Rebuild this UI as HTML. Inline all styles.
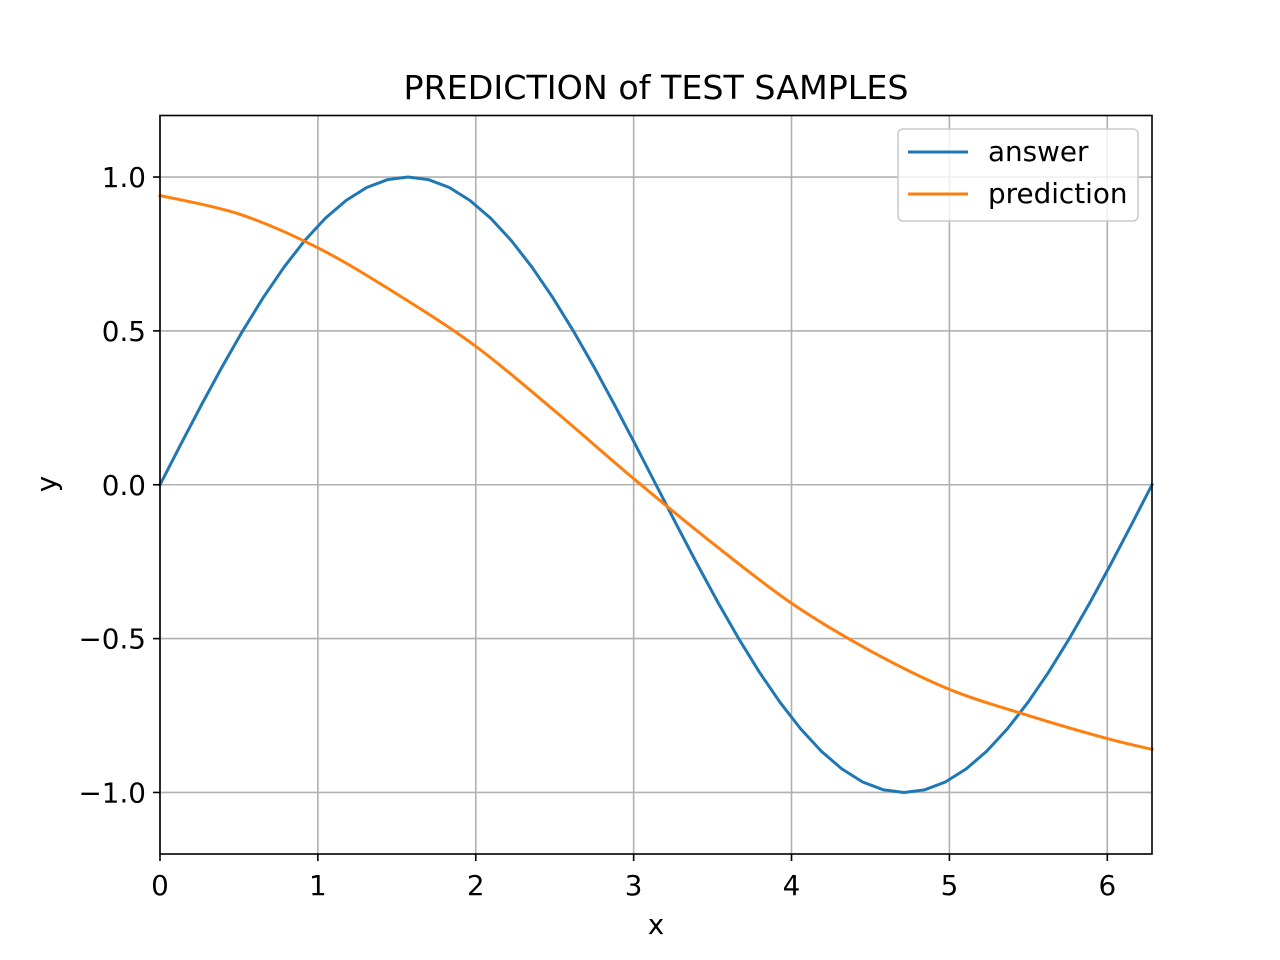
<!DOCTYPE html>
<html><head><meta charset="utf-8">
<style>
html,body{margin:0;padding:0;background:#fff;}
svg{display:block;font-family:"DejaVu Sans","Liberation Sans",sans-serif;}
</style></head>
<body>
<svg id="chart" width="1280" height="960" viewBox="0 0 1280 960" xmlns="http://www.w3.org/2000/svg">
<rect x="0" y="0" width="1280" height="960" fill="#fff"/>
<g id="grid"></g>
<g id="series"></g>
<rect x="160" y="115.5" width="992" height="738.5" fill="none" stroke="#000" stroke-width="1.6"/>
<g id="ticks"></g>
<text x="656" y="99" font-size="33.3" text-anchor="middle">PREDICTION of TEST SAMPLES</text>
<text x="656" y="934" font-size="27.8" text-anchor="middle">x</text>
<text x="0" y="0" font-size="27.8" text-anchor="middle" transform="translate(56,484) rotate(-90)">y</text>
<g>
<rect x="898" y="129" width="240" height="92" rx="5" fill="#fff" fill-opacity="0.8" stroke="#ccc" stroke-width="1.6"/>
<line x1="908" y1="152" x2="968" y2="152" stroke="#1f77b4" stroke-width="3"/>
<text x="988" y="161" font-size="27.8">answer</text>
<line x1="908" y1="194" x2="968" y2="194" stroke="#ff7f0e" stroke-width="3"/>
<text x="988" y="203" font-size="27.8">prediction</text>
</g>
</svg>
<script>
const answerX=[0,0.1309,0.2618,0.3927,0.5236,0.6545,0.7854,0.9163,1.0472,1.1781,1.309,1.4399,1.5708,1.7017,1.8326,1.9635,2.0944,2.2253,2.3562,2.4871,2.618,2.7489,2.8798,3.0107,3.1416,3.2725,3.4034,3.5343,3.6652,3.7961,3.927,4.0579,4.1888,4.3197,4.4506,4.5815,4.7124,4.8433,4.9742,5.1051,5.236,5.3669,5.4978,5.6287,5.7596,5.8905,6.0214,6.1523,6.2832];
const answerY=[0,0.1305,0.2588,0.3827,0.5,0.6088,0.7071,0.7934,0.866,0.9239,0.9659,0.9914,1,0.9914,0.9659,0.9239,0.866,0.7934,0.7071,0.6088,0.5,0.3827,0.2588,0.1305,0,-0.1305,-0.2588,-0.3827,-0.5,-0.6088,-0.7071,-0.7934,-0.866,-0.9239,-0.9659,-0.9914,-1,-0.9914,-0.9659,-0.9239,-0.866,-0.7934,-0.7071,-0.6088,-0.5,-0.3827,-0.2588,-0.1305,0];
const predX=[0,0.5,1,1.5,2,2.5,3,3.5,4,4.5,5,5.5,6,6.2832];
const predY=[0.94,0.88,0.77,0.62,0.45,0.24,0.02,-0.19,-0.385,-0.54,-0.665,-0.75,-0.825,-0.86];
const xTicks=[0,1,2,3,4,5,6];
const yTicks=[-1.0,-0.5,0.0,0.5,1.0];
const yTickLabels=["\u22121.0","\u22120.5","0.0","0.5","1.0"];

const X0=160,X1=1152,Y0=854,Y1=115.5,xmin=0,xmax=6.2832,ymin=-1.2,ymax=1.2;
const sx=v=>X0+(v-xmin)/(xmax-xmin)*(X1-X0);
const sy=v=>Y0-(v-ymin)/(ymax-ymin)*(Y0-Y1);
const NS="http://www.w3.org/2000/svg";
function mk(tag,attrs,parent){const e=document.createElementNS(NS,tag);for(const k in attrs)e.setAttribute(k,attrs[k]);parent.appendChild(e);return e;}
const grid=document.getElementById('grid'),ticks=document.getElementById('ticks'),series=document.getElementById('series');
xTicks.forEach(t=>{
 const gl=mk('line',{x1:sx(t),x2:sx(t),y1:Y1,y2:Y0,stroke:'#b0b0b0','stroke-width':1.6},grid);
 
 
 const tk=mk('line',{x1:sx(t),x2:sx(t),y1:Y0,y2:Y0+7,stroke:'#000','stroke-width':1.6},ticks);
 
 
 const tl=mk('text',{x:sx(t),y:Y0+41,'font-size':27.8,'text-anchor':'middle'},ticks);
 
 
 tl.textContent=String(t);
});
yTicks.forEach((t,i)=>{
 const gl=mk('line',{x1:X0,x2:X1,y1:sy(t),y2:sy(t),stroke:'#b0b0b0','stroke-width':1.6},grid);
 
 
 const tk=mk('line',{x1:X0-7,x2:X0,y1:sy(t),y2:sy(t),stroke:'#000','stroke-width':1.6},ticks);
 
 
 const tl=mk('text',{x:X0-14,y:sy(t)+10,'font-size':27.8,'text-anchor':'end'},ticks);
 
 
 tl.textContent=yTickLabels[i];
});
function line(xs,ys,color,name,smooth){
 const P=xs.map((x,i)=>[sx(x),sy(ys[i])]);
 let d='M'+P[0][0].toFixed(2)+','+P[0][1].toFixed(2);
 for(let i=1;i<P.length;i++){
  if(!smooth){d+='L'+P[i][0].toFixed(2)+','+P[i][1].toFixed(2);continue;}
  const p0=P[Math.max(i-2,0)],p1=P[i-1],p2=P[i],p3=P[Math.min(i+1,P.length-1)];
  const c1=[p1[0]+(p2[0]-p0[0])/6,p1[1]+(p2[1]-p0[1])/6];
  const c2=[p2[0]-(p3[0]-p1[0])/6,p2[1]-(p3[1]-p1[1])/6];
  d+='C'+c1[0].toFixed(2)+','+c1[1].toFixed(2)+' '+c2[0].toFixed(2)+','+c2[1].toFixed(2)+' '+p2[0].toFixed(2)+','+p2[1].toFixed(2);
 }
 const p=mk('path',{d:d,fill:'none',stroke:color,'stroke-width':3,'stroke-linejoin':'round','stroke-linecap':'square'},series);
 
 
}
line(answerX,answerY,'#1f77b4','answer-line',false);
line(predX,predY,'#ff7f0e','prediction-line',true);
</script>
</body></html>
